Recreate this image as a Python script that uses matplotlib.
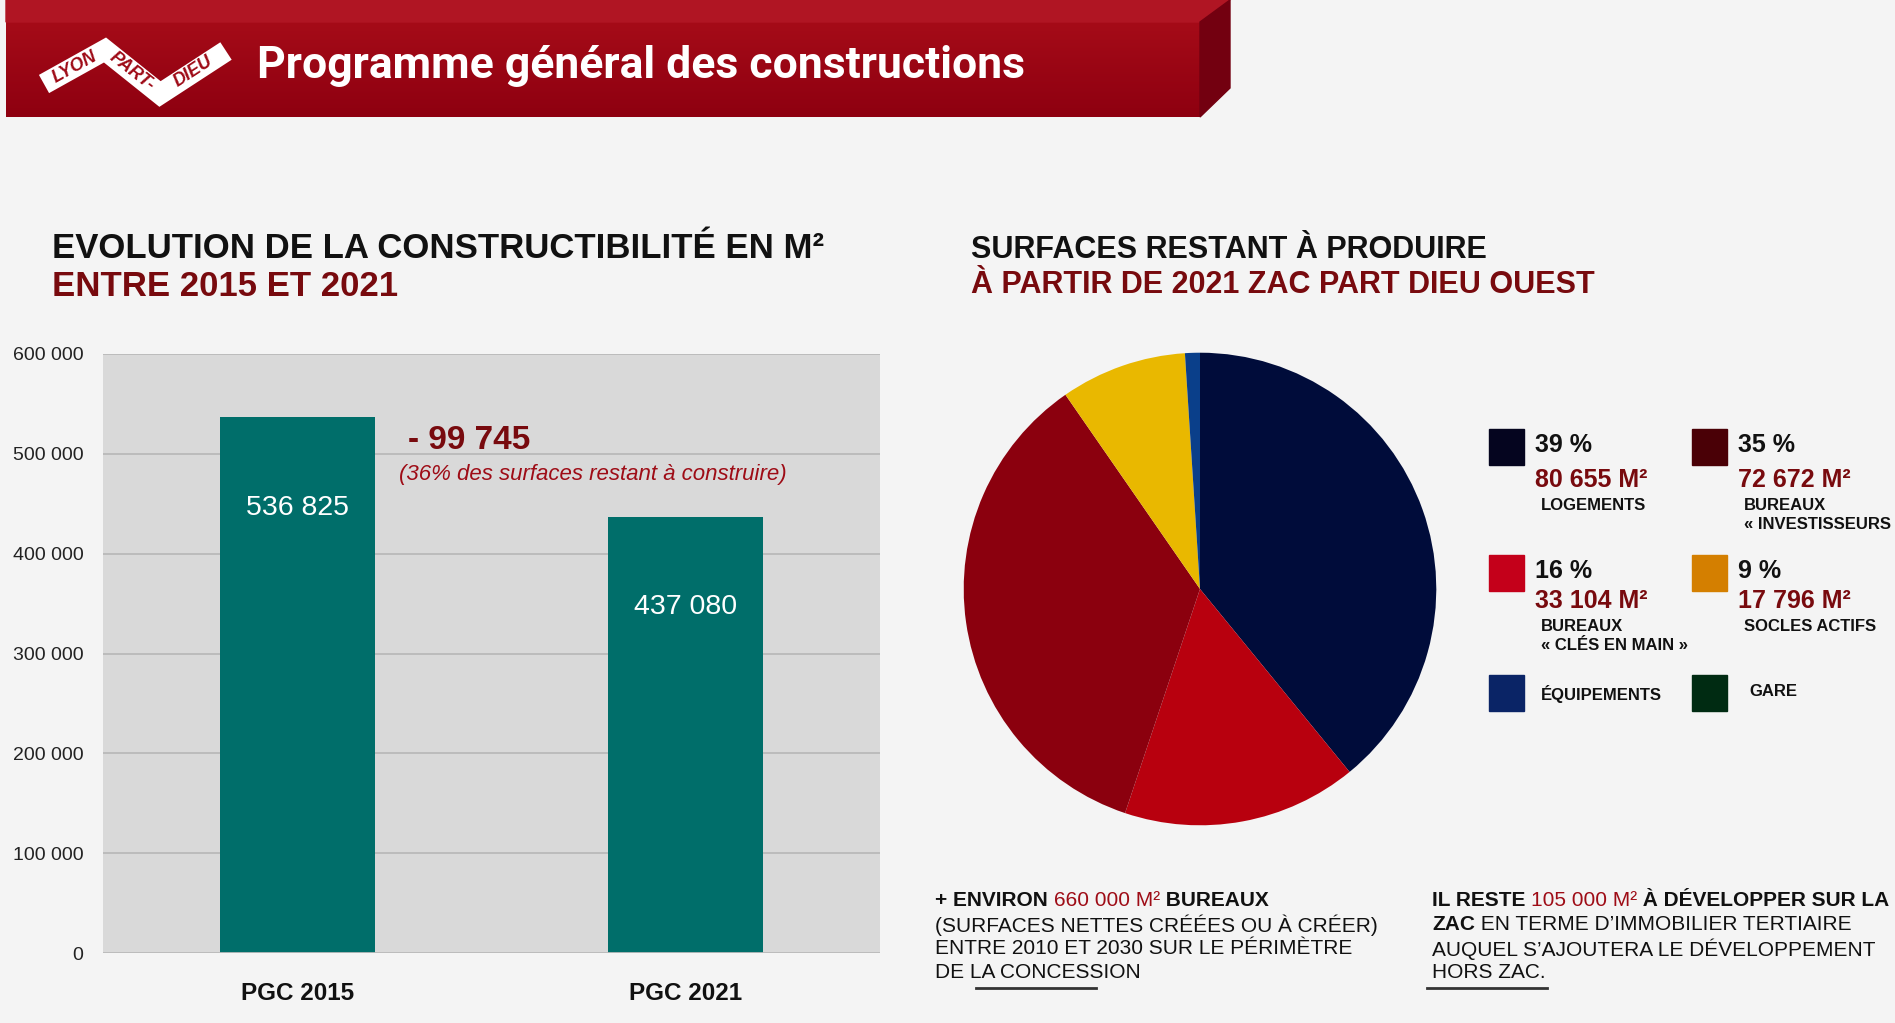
import matplotlib
matplotlib.use('Agg')
import matplotlib.pyplot as plt
import numpy as np

plt.rcParams['font.family'] = ['Liberation Sans', 'DejaVu Sans']

W, H = 1895, 1023
NARROW = ['Liberation Sans Narrow', 'Liberation Sans', 'DejaVu Sans']

# --- données ---
categories = ['PGC 2015', 'PGC 2021']
values = [536825, 437080]
y_ticks = [0, 100000, 200000, 300000, 400000, 500000, 600000]

pie_names = ['LOGEMENTS', 'BUREAUX\n« CLÉS EN MAIN »', 'BUREAUX\n« INVESTISSEURS',
             'SOCLES ACTIFS', 'ÉQUIPEMENTS']
pie_values = [80655, 33104, 72672, 17796, 2100]
pie_colors = ['#000c3a', '#b8000e', '#8b000e', '#e9b800', '#0a3f8a']

leg_order = [0, 2, 1, 3, 4]          # ordre d'affichage dans la légende
leg_colors = ['#05051f', '#4a0006', '#c4001a', '#d47f00', '#0a2466', '#002b12']
leg_extra = 'GARE'

dark_red = '#780a0e'
bright_red = '#9e0c16'


def fmt(v):
    return f'{v:,}'.replace(',', ' ')


fig = plt.figure(figsize=(W / 100, H / 100), dpi=100, facecolor='#f4f4f4')

# toile en pixels pour le décor et les textes
bg = fig.add_axes([0, 0, 1, 1])
bg.axis('off')
bg.patch.set_visible(False)

# bandeau rouge
grad = np.linspace(0, 1, 100).reshape(-1, 1)
cmap = matplotlib.colors.LinearSegmentedColormap.from_list('bandeau', ['#a50b18', '#8e0010'])
bg.imshow(grad, cmap=cmap, extent=(6, 1200, 117, 22), aspect='auto', zorder=1)
bg.add_patch(plt.Polygon([(6, 0), (1230, 0), (1200, 22), (6, 22)], color='#b01523', zorder=1))
bg.add_patch(plt.Polygon([(1200, 22), (1230, 0), (1230, 88), (1200, 117)], color='#730010', zorder=1))
bg.set_xlim(0, W)
bg.set_ylim(H, 0)

# logo
bg.plot([44, 105, 160, 226], [84, 50, 94, 51], color='white', lw=15,
        solid_joinstyle='miter', solid_capstyle='butt', zorder=2)
for s, x, y, rot in [('LYON', 75, 67, 29), ('PART-', 132, 72, -38), ('DIEU', 193, 72, 33)]:
    bg.text(x, y, s, color='#9e0a16', fontsize=13, fontweight='bold', style='italic',
            rotation=rot, ha='center', va='center', rotation_mode='anchor', zorder=3)

bg.text(257, 66, 'Programme général des constructions', color='white', fontsize=32,
        fontweight='bold', family=['Roboto', 'DejaVu Sans'], va='center', zorder=3)

# titres
bg.text(52, 249, 'EVOLUTION DE LA CONSTRUCTIBILITÉ EN M²', fontsize=25, fontweight='bold',
        color='#111111', va='center')
bg.text(52, 287, 'ENTRE 2015 ET 2021', fontsize=25, fontweight='bold', color=dark_red, va='center')
bg.text(971, 250, 'SURFACES RESTANT À PRODUIRE', fontsize=22, fontweight='bold',
        color='#111111', va='center')
bg.text(971, 285, 'À PARTIR DE 2021 ZAC PART DIEU OUEST', fontsize=22, fontweight='bold',
        color=dark_red, va='center')

# --- histogramme ---
ax = fig.add_axes([103 / W, (H - 953) / H, 777 / W, 599 / H])
x = np.arange(len(categories))
ax.bar(x, values, width=0.4, color='#006e6a', zorder=3)
ax.set_xlim(-0.5, 1.5)
ax.set_ylim(0, 600000)
ax.set_facecolor('#d9d9d9')
ax.set_yticks(y_ticks)
ax.set_yticklabels([fmt(v) for v in y_ticks], family=NARROW, fontsize=14, color='#222222')
ax.set_xticks(x)
ax.set_xticklabels(categories, family=NARROW, fontsize=17.5, fontweight='bold', color='#111111')
ax.yaxis.grid(True, color='#bcbcbc', lw=1.4, zorder=0)
ax.tick_params(axis='both', length=0)
ax.tick_params(axis='y', pad=14)
ax.tick_params(axis='x', pad=21)
for sp in ax.spines.values():
    sp.set_visible(False)
ax.axhline(0, color='#bcbcbc', lw=2, zorder=4)

for i, v in enumerate(values):
    ax.text(i, v - 91000, fmt(v), ha='center', va='center', color='white',
            fontsize=20.5, family=NARROW, zorder=5)

delta = values[0] - values[1]
ax.text(0.285, 512900, '- ' + fmt(delta), color=dark_red, fontsize=24, fontweight='bold',
        va='center', ha='left', family=NARROW)
ax.text(0.262, 478800, '(36% des surfaces restant à construire)', color=bright_red,
        fontsize=16, style='italic', va='center', ha='left', family=NARROW)

# --- camembert ---
ax2 = fig.add_axes([963 / W, (H - 826) / H, 474 / W, 474 / H])
ax2.pie(pie_values, colors=pie_colors, startangle=90, counterclock=False,
        wedgeprops=dict(linewidth=0))
ax2.set_xlim(-1.003, 1.003)
ax2.set_ylim(-1.003, 1.003)

# légende
total = sum(pie_values)
col_x = [1489, 1692]
row_y = [429, 555, 675]
row_dy = [5, 0, 0]
for k, idx in enumerate(leg_order + [None]):
    cx = col_x[k % 2]
    ry = row_y[k // 2]
    dy = row_dy[k // 2]
    bg.add_patch(plt.Rectangle((cx, ry), 35, 36, color=leg_colors[k], zorder=2))
    if idx is None:
        bg.text(cx + 57, ry + 16, leg_extra, fontsize=12, fontweight='bold', color='#111111', va='center')
        continue
    name = pie_names[idx]
    if k >= 4:
        bg.text(cx + 52, ry + 19, name, fontsize=12, fontweight='bold', color='#111111', va='center')
        continue
    pct = round(100 * pie_values[idx] / total)
    bg.text(cx + 46, ry + 16, f'{pct} %', fontsize=18, fontweight='bold', color='#111111', va='center')
    bg.text(cx + 46, ry + 46 + dy, fmt(pie_values[idx]) + ' M²', fontsize=18, fontweight='bold',
            color=dark_red, va='center')
    bg.text(cx + 52, ry + 64 + dy, name, fontsize=12, fontweight='bold', color='#111111', va='top',
            linespacing=1.35)

# textes du bas, en segments de couleurs différentes
renderer = fig.canvas.get_renderer()


def runs(x0, y, parts):
    x = x0
    for s, color, weight in parts:
        t = bg.text(x, y, s, color=color, fontweight=weight, fontsize=15, family=NARROW,
                    va='center')
        x += t.get_window_extent(renderer=renderer).width


left_lines = [
    [('+ ENVIRON ', '#111111', 'bold'), ('660 000 M²', bright_red, 'normal'), (' BUREAUX', '#111111', 'bold')],
    [('(SURFACES NETTES CRÉÉES OU À CRÉER)', '#111111', 'normal')],
    [('ENTRE 2010 ET 2030 SUR LE PÉRIMÈTRE', '#111111', 'normal')],
    [('DE LA CONCESSION', '#111111', 'normal')],
]
right_lines = [
    [('IL RESTE ', '#111111', 'bold'), ('105 000 M²', bright_red, 'normal'),
     (' À DÉVELOPPER SUR LA', '#111111', 'bold')],
    [('ZAC', '#111111', 'bold'), (' EN TERME D’IMMOBILIER TERTIAIRE', '#111111', 'normal')],
    [('AUQUEL S’AJOUTERA LE DÉVELOPPEMENT', '#111111', 'normal')],
    [('HORS ZAC.', '#111111', 'normal')],
]
for i, y in enumerate([900, 925, 949, 973]):
    runs(935, y, left_lines[i])
    runs(1432, y, right_lines[i])

bg.plot([976, 1096], [988, 988], color='#333333', lw=2)
bg.plot([1427, 1547], [988, 988], color='#333333', lw=2)

fig.savefig('out.png', dpi=100, facecolor=fig.get_facecolor())
